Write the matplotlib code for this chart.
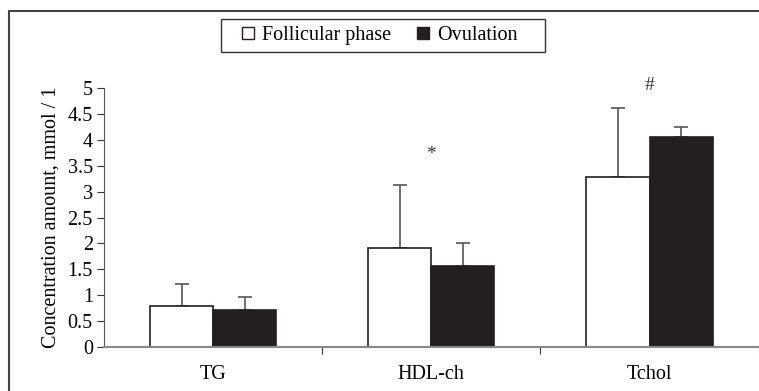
import matplotlib
matplotlib.use("Agg")
import matplotlib.pyplot as plt
import numpy as np
from matplotlib.patches import Rectangle

plt.rcParams['font.family'] = ['Liberation Serif', 'DejaVu Serif']

categories = ['TG', 'HDL-ch', 'Tchol']
follicular = [0.79, 1.91, 3.29]
follicular_err = [0.42, 1.21, 1.32]
ovulation = [0.71, 1.57, 4.06]
ovulation_err = [0.25, 0.43, 0.18]
marks = ['', '*', '#']
mark_y = [0, 3.72, 5.05]

fig = plt.figure(figsize=(7.59, 3.91), dpi=100)
ax = fig.add_axes([0.137, 0.1125, 0.8625, 0.6624])

x = np.arange(len(categories))
w = 0.289
ax.bar(x - w / 2, follicular, w, color='white', edgecolor='#231f20', linewidth=1.2, zorder=2)
ax.bar(x + w / 2, ovulation, w, color='#231f20', edgecolor='#231f20', linewidth=1.2, zorder=2)
ax.errorbar(x - w / 2, follicular, yerr=[np.zeros(3), follicular_err], fmt='none',
            ecolor='#555555', elinewidth=1.2, capsize=5, capthick=1.2, zorder=1)
ax.errorbar(x + w / 2, ovulation, yerr=[np.zeros(3), ovulation_err], fmt='none',
            ecolor='#555555', elinewidth=1.2, capsize=5, capthick=1.2, zorder=1)

for xi, m, my in zip(x, marks, mark_y):
    if m:
        ax.text(xi, my, m, ha='center', va='center', fontsize=14, color='#333333', clip_on=False)

ax.set_xlim(-0.5, 2.5)
ax.set_ylim(0, 5)
ax.set_yticks(np.arange(0, 5.01, 0.5))
ax.set_yticklabels(['0', '0.5', '1', '1.5', '2', '2.5', '3', '3.5', '4', '4.5', '5'], fontsize=14.5)
ax.set_xticks([0.5, 1.5, 2.5])
ax.set_xticklabels([])
ax.set_xticks(x, minor=True)
ax.set_xticklabels(categories, minor=True, fontsize=14.5)
ax.tick_params(axis='x', which='minor', length=0, pad=13)
ax.tick_params(axis='x', which='major', length=5, color='#333333')
ax.tick_params(axis='y', length=5, color='#333333', pad=3)
ax.set_ylabel('Concentration amount, mmol / 1', fontsize=14.5, labelpad=5)

for s in ['top', 'right']:
    ax.spines[s].set_visible(False)
ax.spines['left'].set_color('#555555')
ax.spines['bottom'].set_color('#888888')
ax.spines['bottom'].set_linewidth(1.5)

h1 = Rectangle((0, 0), 1, 1, facecolor='white', edgecolor='#231f20')
h2 = Rectangle((0, 0), 1, 1, facecolor='#231f20', edgecolor='#231f20')
leg = fig.legend([h1, h2], ['Follicular phase', 'Ovulation'], ncol=2, loc='center',
                 bbox_to_anchor=(380 / 759, 1 - 35.5 / 391), fontsize=14.5, frameon=False,
                 handlelength=0.6, handleheight=0.6, handletextpad=0.4,
                 columnspacing=1.3, borderpad=0.3)

# legend box
fig.patches.append(Rectangle((221 / 759, 1 - 52 / 391), 324 / 759, 33 / 391,
                             transform=fig.transFigure, fill=False,
                             edgecolor='#333333', linewidth=1.0))

# outer frame (top and left edges visible)
fig.patches.append(Rectangle((9 / 759, -0.1), 1.2, 1 - 11 / 391 + 0.1, transform=fig.transFigure,
                             fill=False, edgecolor='#444444', linewidth=1.5))

fig.savefig('out.png', dpi=100)
